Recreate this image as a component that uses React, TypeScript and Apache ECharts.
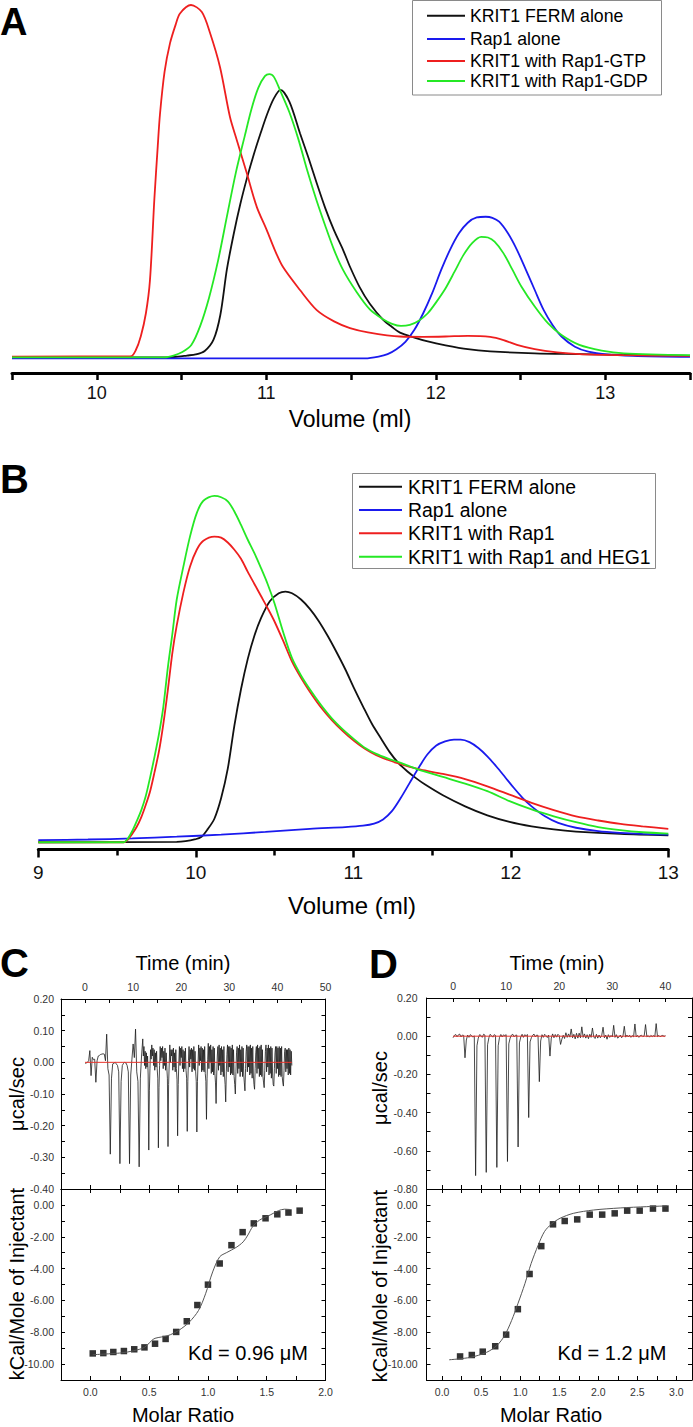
import React, { useEffect, useRef } from 'react';
import * as echarts from 'echarts';

const FONT = 'Liberation Sans, Arial, Helvetica, sans-serif';

// ---------- Panel A (absorbance, relative units; Rap1-GTP peak = 100) ----------
const A_X_BLACK = [9.5, 10.426, 10.479, 10.532, 10.584, 10.637, 10.689, 10.729, 10.768, 10.808, 10.847, 10.887, 10.926, 10.966, 11.005, 11.045, 11.084, 11.137, 11.199, 11.25, 11.298, 11.347, 11.4, 11.453, 11.494, 11.55, 11.611, 11.69, 11.742, 11.789, 11.874, 11.953, 12.058, 12.189, 12.321, 12.584, 12.847, 13.5];
const A_Y_BLACK = [0, 0, 0.2, 0.5, 0.8, 1.8, 5.0, 12, 25, 35, 43.5, 51, 57.5, 63.5, 69, 73.5, 75.9, 72.5, 63.6, 56.5, 49.4, 42.5, 36, 30.5, 25.7, 20, 15.2, 10.6, 8.6, 7, 5.6, 4.5, 3.4, 2.3, 1.7, 1.1, 0.9, 0.4];
const A_X_BLUE = [9.5, 11.584, 11.663, 11.716, 11.768, 11.821, 11.874, 11.926, 11.979, 12.032, 12.084, 12.137, 12.189, 12.242, 12.295, 12.334, 12.374, 12.426, 12.479, 12.532, 12.584, 12.637, 12.689, 12.742, 12.821, 12.9, 13.005, 13.163, 13.5];
const A_Y_BLUE = [-0.3, -0.3, 0.2, 0.9, 2.3, 4.4, 7.8, 12.5, 18.2, 24.8, 30.5, 35.2, 38.2, 39.7, 39.9, 39.6, 38.5, 35.2, 30.5, 24.8, 19.1, 13.4, 9.2, 5.9, 3.0, 1.6, 0.8, 0.4, 0.1];
const A_X_RED = [9.5, 10.2, 10.23, 10.26, 10.29, 10.314, 10.34, 10.36, 10.373, 10.4, 10.432, 10.466, 10.491, 10.556, 10.62, 10.668, 10.727, 10.786, 10.826, 10.885, 10.944, 11.003, 11.05, 11.099, 11.199, 11.298, 11.4, 11.494, 11.6, 11.789, 11.926, 12.058, 12.189, 12.321, 12.4, 12.479, 12.584, 12.716, 12.847, 13.11, 13.5];
const A_Y_RED = [0.2, 0.3, 2, 6, 12.5, 21.9, 45, 60, 69, 81, 89.1, 94.5, 97.6, 100, 98, 92.1, 82.4, 68.2, 61.7, 52.3, 42.7, 36.1, 30.5, 25.6, 19.1, 13.4, 10.2, 8.3, 7.1, 5.9, 5.8, 5.9, 6.1, 5.8, 4.9, 3.5, 2.3, 1.4, 0.9, 0.6, 0.4];
const A_X_GREEN = [9.5, 10.4, 10.453, 10.505, 10.558, 10.611, 10.663, 10.716, 10.768, 10.821, 10.874, 10.913, 10.953, 10.992, 11.018, 11.045, 11.084, 11.137, 11.189, 11.242, 11.295, 11.347, 11.4, 11.453, 11.532, 11.611, 11.689, 11.742, 11.795, 11.847, 11.9, 11.953, 12.005, 12.058, 12.111, 12.163, 12.216, 12.268, 12.308, 12.347, 12.4, 12.453, 12.505, 12.584, 12.663, 12.742, 12.847, 12.979, 13.11, 13.5];
const A_Y_GREEN = [0, 0, 0.5, 1.5, 3.5, 9, 17, 27.5, 40, 52.5, 63, 70.5, 76.5, 79.8, 80.4, 79.6, 75.5, 69.5, 62, 53, 44.8, 37.5, 30.5, 24.8, 18.6, 13.6, 10.8, 9.5, 8.9, 9.2, 10.4, 12.5, 15.8, 19.6, 24.3, 29, 32.5, 34.2, 34, 32.8, 29.5, 24.8, 20.1, 14.4, 9.6, 6.3, 3.5, 1.9, 1.1, 0.6];
const A_TICK_LABELS = ['10', '11', '12', '13'];
const A_LEGEND = ['KRIT1 FERM alone', 'Rap1 alone', 'KRIT1 with Rap1-GTP', 'KRIT1 with Rap1-GDP'];

// ---------- Panel B (relative units; KRIT1+Rap1+HEG1 peak = 100) ----------
const B_X = [9, 9.541, 9.569, 9.597, 9.625, 9.654, 9.682, 9.71, 9.738, 9.766, 9.794, 9.823, 9.851, 9.879, 9.921, 9.963, 10.006, 10.048, 10.118, 10.161, 10.203, 10.245, 10.287, 10.33, 10.372, 10.414, 10.456, 10.499, 10.555, 10.611, 10.668, 10.724, 10.794, 10.865, 10.935, 11.006, 11.076, 11.146, 11.217, 11.287, 11.358, 11.428, 11.569, 11.71, 11.851, 11.992, 12.132, 12.273, 12.414, 12.555, 12.696, 12.837, 13];
const B_Y_GREEN = [-0.3, -0.3, 0.8, 3.0, 5.8, 9.0, 13, 18.5, 24.5, 31, 39, 50.5, 60, 70, 79.5, 88.2, 95, 98.6, 100, 99.6, 98.4, 95.5, 91.6, 87.3, 83.4, 79.1, 74.5, 69, 60.5, 53, 48, 44, 39.5, 35.5, 32.3, 29.5, 27, 25.3, 24, 22.9, 21.7, 20.5, 18.6, 16.7, 14.5, 11.6, 9.2, 7.2, 5.5, 4.1, 3.2, 2.6, 2.2];
const B_Y_RED = [-0.3, -0.3, 0.5, 2.2, 4.2, 7, 10.5, 14.5, 20, 26, 34, 44, 54.5, 62.5, 72, 79.5, 84.4, 87, 88.2, 87.9, 86.5, 84.4, 81.8, 78, 74.5, 71, 67.5, 63.7, 58, 52, 47.3, 43.3, 38.8, 35, 31.8, 29, 26.7, 24.9, 23.6, 22.5, 21.5, 20.7, 19.5, 18, 15.9, 13.5, 11.1, 9, 7.2, 6, 5, 4.3, 3.6];
const B_X_BLACK = [9, 9.879, 9.935, 9.992, 10.034, 10.076, 10.118, 10.161, 10.203, 10.245, 10.287, 10.33, 10.372, 10.414, 10.47, 10.527, 10.569, 10.611, 10.668, 10.724, 10.78, 10.837, 10.893, 10.949, 11.006, 11.062, 11.118, 11.175, 11.231, 11.287, 11.344, 11.4, 11.456, 11.569, 11.71, 11.851, 11.992, 12.132, 12.273, 12.414, 12.696, 13];
const B_Y_BLACK = [-0.3, -0.2, 0, 0.5, 1.2, 3.5, 6.5, 12.5, 21, 33.5, 44, 52.8, 59.5, 64.6, 69.5, 71.8, 72.3, 71.8, 70, 67.3, 63.8, 59.5, 54.8, 49.8, 44.2, 39, 34, 29.8, 25.8, 22.6, 20.2, 18.2, 16.4, 13.3, 10.1, 7.5, 5.6, 4.3, 3.4, 2.8, 2.1, 1.7];
const B_X_BLUE = [9, 9.315, 9.597, 9.879, 10.161, 10.442, 10.724, 10.949, 11.062, 11.132, 11.189, 11.245, 11.301, 11.358, 11.414, 11.47, 11.527, 11.583, 11.639, 11.682, 11.738, 11.794, 11.851, 11.907, 11.963, 12.02, 12.076, 12.132, 12.217, 12.301, 12.414, 12.555, 12.696, 12.837, 13];
const B_Y_BLUE = [0.3, 0.5, 0.8, 1.3, 1.9, 2.7, 3.6, 4.1, 4.5, 5.1, 6.3, 8.7, 12.5, 16.9, 21.2, 25.1, 27.7, 28.9, 29.4, 29.4, 28.7, 27, 24.6, 21.7, 18.6, 15.4, 12.5, 10.1, 7.2, 5.3, 3.9, 2.9, 2.4, 2.1, 1.9];
const B_LEGEND = ['KRIT1 FERM alone', 'Rap1 alone', 'KRIT1 with Rap1', 'KRIT1 with Rap1 and HEG1'];

// ---------- Panel C (ITC) ----------
// raw thermogram, µcal/sec: first 12 min sampled every 0.25 min, then every 0.125 min
const C_RAW_EARLY_T0 = 0;
const C_RAW_EARLY_DT = 0.25;
const C_RAW_EARLY = [
  -0.003, -0.002, 0.0, 0.005, 0.037, -0.042, 0.016, 0.008,
  0.01, -0.063, 0.005, 0.02, 0.022, 0.025, 0.026, 0.027,
  0.026, 0.005, 0.089, -0.02, -0.04, -0.29, -0.05, -0.005,
  -0.003, 0.0, -0.005, -0.01, -0.03, -0.32, -0.06, -0.01,
  -0.003, 0.0, -0.002, -0.01, -0.03, -0.32, -0.04, 0.01,
  0.058, 0.015, 0.105, -0.03, -0.06, -0.33, -0.05, 0.02,
];
const C_RAW_LATE_T0 = 12;
const C_RAW_LATE_DT = 0.125;
const C_RAW_LATE = [
  0.074, 0.02, 0.05, -0.01, 0.035, -0.02, 0.03, -0.015, 0.02, -0.04, -0.277, -0.09, -0.02, 0.04, 0.01, 0.055,
  0.02, 0.045, -0.01, 0.04, -0.025, 0.03, -0.015, 0.035, -0.02, -0.05, -0.27, -0.08, -0.01, 0.05, 0.005, 0.045,
  0.015, 0.05, -0.02, 0.035, -0.01, 0.045, -0.025, 0.03, -0.015, -0.05, -0.266, -0.07, -0.005, 0.055, 0.0, 0.04,
  0.02, 0.04, -0.025, 0.045, -0.015, 0.03, -0.03, 0.04, -0.02, -0.055, -0.232, -0.07, 0.0, 0.05, -0.01, 0.045,
  0.015, 0.05, -0.02, 0.04, -0.03, 0.035, -0.02, 0.045, -0.025, -0.05, -0.218, -0.06, 0.005, 0.05, -0.015, 0.04,
  0.01, 0.045, -0.03, 0.04, -0.02, 0.05, -0.025, 0.035, -0.03, -0.06, -0.22, -0.06, 0.0, 0.055, -0.01, 0.045,
  0.005, 0.05, -0.03, 0.045, -0.025, 0.04, -0.03, 0.05, -0.035, -0.06, -0.18, -0.05, 0.01, 0.06, -0.02, 0.05,
  0.0, 0.055, -0.035, 0.04, -0.03, 0.05, -0.04, 0.045, -0.035, -0.065, -0.13, -0.04, 0.02, 0.05, -0.025, 0.055,
  -0.01, 0.045, -0.04, 0.05, -0.03, 0.04, -0.045, 0.05, -0.04, -0.07, -0.125, -0.03, 0.025, 0.055, -0.03, 0.05,
  -0.015, 0.05, -0.04, 0.045, -0.035, 0.055, -0.04, 0.04, -0.045, -0.07, -0.10, -0.03, 0.03, 0.05, -0.035, 0.045,
  -0.02, 0.055, -0.045, 0.04, -0.03, 0.05, -0.045, 0.045, -0.04, -0.065, -0.09, -0.02, 0.035, 0.055, -0.03, 0.05,
  -0.015, 0.05, -0.04, 0.055, -0.035, 0.045, -0.05, 0.05, -0.04, -0.07, -0.085, -0.02, 0.03, 0.05, -0.035, 0.055,
  -0.02, 0.045, -0.045, 0.05, -0.04, 0.055, -0.045, 0.04, -0.045, -0.065, -0.08, -0.025, 0.035, 0.055, -0.03, 0.045,
  -0.015, 0.055, -0.04, 0.045, -0.035, 0.05, -0.05, 0.045, -0.04, -0.07, -0.075, -0.02, 0.03, 0.05, -0.035, 0.05,
  -0.02, 0.045, -0.045, 0.05, -0.04, 0.045, -0.045, 0.05, -0.045, -0.065, -0.075, -0.025, 0.035, 0.045, -0.03, 0.04,
  -0.02, 0.04, -0.04, 0.045, -0.035, 0.04, -0.04, 0.035, -0.01,
];
const C_BASELINE_T = [0, 43];
const C_RATIO = [0.02, 0.11, 0.195, 0.285, 0.373, 0.46, 0.55, 0.64, 0.73, 0.82, 0.91, 1.0, 1.10, 1.20, 1.295, 1.39, 1.49, 1.59, 1.685, 1.78];
const C_HEAT = [-9.33, -9.31, -9.24, -9.18, -9.07, -8.95, -8.72, -8.42, -7.98, -7.31, -6.29, -5.01, -3.68, -2.53, -1.71, -1.16, -0.84, -0.59, -0.48, -0.36];
const C_FIT_X = [0.02, 0.26, 0.37, 0.46, 0.52, 0.55, 0.66, 0.75, 0.84, 0.92, 0.98, 1.04, 1.10, 1.16, 1.24, 1.30, 1.34, 1.38, 1.44, 1.53, 1.60, 1.65, 1.70];
const C_FIT_Y = [-9.41, -9.30, -9.16, -8.95, -8.53, -8.38, -8.21, -7.89, -7.37, -6.63, -5.58, -4.21, -3.26, -2.99, -2.67, -2.32, -1.89, -1.37, -0.95, -0.63, -0.36, -0.27, -0.29];

// ---------- Panel D (ITC) ----------
const D_RAW_T0 = 0;
const D_RAW_DT = 0.25;
const D_RAW = [
  -0.008, 0.004, 0.009, -0.003, 0.007, 0.011, -0.004, 0.006,
  0.004, -0.113, -0.02, 0.006, -0.006, 0.008, 0.003, -0.005,
  0.002, -0.73, -0.05, -0.01, 0.008, 0.004, -0.006, 0.01,
  0.006, -0.713, -0.045, -0.008, 0.01, 0.002, -0.005, 0.008,
  0.004, -0.687, -0.05, -0.006, 0.009, -0.004, 0.007, 0.003,
  0.008, -0.656, -0.04, -0.01, 0.006, 0.01, -0.003, 0.005,
  0.006, -0.58, -0.035, -0.004, 0.01, -0.006, 0.008, 0.002,
  0.009, -0.426, -0.03, -0.008, 0.005, 0.011, -0.004, 0.006,
  0.004, -0.238, -0.025, 0.008, -0.006, 0.01, 0.003, -0.007,
  0.006, -0.104, -0.01, 0.012, -0.008, 0.009, -0.005, 0.01,
  0.003, -0.043, -0.015, 0.005, -0.012, 0.018, -0.006, 0.012,
  -0.005, 0.038, -0.008, 0.01, -0.014, 0.015, -0.01, 0.016,
  -0.008, 0.049, -0.006, 0.012, -0.01, 0.008, -0.013, 0.01,
  -0.006, 0.043, -0.004, -0.012, 0.01, -0.01, 0.006, -0.008,
  0.004, 0.047, -0.008, 0.006, -0.016, 0.008, -0.006, 0.004,
  -0.004, 0.057, -0.006, 0.008, -0.01, -0.004, 0.006, -0.008,
  0.002, 0.052, -0.005, 0.006, -0.004, 0.005, -0.006, 0.003,
  -0.003, 0.064, -0.004, 0.004, -0.006, 0.003, 0.005, -0.002,
  0.002, 0.061, -0.003, 0.003, -0.005, 0.004, -0.002, 0.003,
  -0.002, 0.066, -0.002, 0.004, -0.003, 0.002, 0.004, -0.001,
  0.003,
];
const D_BASELINE_T = [0, 40];
const D_RATIO = [0.23, 0.38, 0.52, 0.68, 0.82, 0.97, 1.12, 1.27, 1.42, 1.57, 1.73, 1.89, 2.05, 2.21, 2.37, 2.53, 2.70, 2.86];
const D_HEAT = [-9.52, -9.43, -9.22, -8.88, -8.15, -6.55, -4.34, -2.59, -1.22, -1.01, -0.91, -0.61, -0.61, -0.53, -0.36, -0.36, -0.23, -0.23];
const D_FIT_X = [0.09, 0.36, 0.57, 0.70, 0.80, 0.89, 0.97, 1.06, 1.14, 1.23, 1.31, 1.40, 1.51, 1.68, 1.94, 2.28, 2.62, 2.88];
const D_FIT_Y = [-9.73, -9.58, -9.26, -8.84, -8.21, -7.26, -6.21, -4.95, -3.68, -2.53, -1.68, -1.20, -0.84, -0.53, -0.32, -0.19, -0.11, -0.06];
const D_RATIO_TICKS = [0, 0.25, 0.5, 0.75, 1, 1.25, 1.5, 1.75, 2, 2.25, 2.5, 2.75, 3];
const D_RATIO_LABELS = [0, 0.5, 1, 1.5, 2, 2.5, 3];

const C_KD = 'Kd = 0.96 \u03BCM';
const D_KD = 'Kd = 1.2 \u03BCM';

const COLORS = { black: '#111111', blue: '#1a1aee', red: '#ee1f1f', green: '#25e825' };

const pairs = (xs: number[], ys: number[]) => xs.map((x, i) => [x, ys[i]]);
const sampled = (t0: number, dt: number, vs: number[]) => vs.map((v, i) => [t0 + i * dt, v]);

const fmtInt = (v: number) => (Math.abs(v - Math.round(v)) < 1e-6 && A_TICK_LABELS.includes(String(Math.round(v))) ? String(Math.round(v)) : '');
const fmtIntB = (v: number) => (Math.abs(v - Math.round(v)) < 1e-6 ? String(Math.round(v)) : '');
const fmtTime = (v: number) => { const k = Math.round(v); return Math.abs(v - k) < 1e-6 && k >= 0 && k % 10 === 0 ? String(k) : ''; };
const fmtCTop = (v: number) => { const k = Math.round(v * 100); return k % 10 === 0 ? (k / 100).toFixed(2) : ''; };
const fmtDTop = (v: number) => { const k = Math.round(v * 10); return k % 2 === 0 ? (k / 10).toFixed(2) : ''; };
const fmtHeat = (v: number) => { const k = Math.round(v); return Math.abs(v - k) < 1e-6 && k % 2 === 0 ? k.toFixed(2) : ''; };
const fmtRatio = (v: number) => { const k = Math.round(v * 4); return k >= 0 && k % 2 === 0 ? (k / 4).toFixed(1) : ''; };

const LINE_OFF = { show: false };
const frame = { show: true, onZero: false, lineStyle: { color: '#000', width: 1 } };
const tickIn = { show: true, inside: true, length: 4, lineStyle: { color: '#000', width: 1 } };
const itcLabel = (fmt: any, margin: number) => ({ show: true, fontSize: 10.5, color: '#333', fontFamily: FONT, formatter: fmt, margin, showMinLabel: true, showMaxLabel: true });
const noLabel = { show: false };

function buildOption(): any {
  const grids = [
    { left: 12, top: 0, width: 678, height: 373 }, // A
    { left: 38.3, top: 420, width: 630, height: 429.5 }, // B
    { left: 61, top: 999, width: 264.5, height: 190 }, // C top
    { left: 61, top: 1189, width: 264.5, height: 191 }, // C bottom
    { left: 426.5, top: 998, width: 265.5, height: 191 }, // D top
    { left: 426.5, top: 1189, width: 265.5, height: 191 }, // D bottom
  ].map((g) => ({ ...g, show: false, containLabel: false, outerBoundsMode: 'none' }));

  const xAxis: any[] = [
    {
      type: 'value', gridIndex: 0, position: 'bottom', min: 9.5, max: 13.5, interval: 0.5,
      axisLine: { show: true, onZero: false, lineStyle: { color: '#000', width: 3 } },
      axisTick: { show: true, inside: false, length: 7, lineStyle: { color: '#000', width: 2.5 } },
      axisLabel: { show: true, formatter: fmtInt, fontSize: 18, color: '#111', fontFamily: FONT, margin: 11 },
      splitLine: LINE_OFF,
    },
    {
      type: 'value', gridIndex: 1, position: 'bottom', min: 9, max: 13, interval: 1,
      axisLine: { show: true, onZero: false, lineStyle: { color: '#000', width: 3 } },
      axisTick: { show: true, inside: false, length: 8, lineStyle: { color: '#000', width: 2.5 } },
      minorTick: { show: true, splitNumber: 2, length: 6, lineStyle: { color: '#000', width: 2.5 } },
      axisLabel: { show: true, formatter: fmtIntB, fontSize: 19, color: '#111', fontFamily: FONT, margin: 13, showMinLabel: true, showMaxLabel: true },
      splitLine: LINE_OFF, minorSplitLine: LINE_OFF,
    },
    // C top: time axis (top) and ratio ticks (bottom edge)
    { type: 'value', gridIndex: 2, position: 'top', min: -5, max: 50, interval: 5, axisLine: frame, axisTick: tickIn, axisLabel: itcLabel(fmtTime, 7), splitLine: LINE_OFF },
    { type: 'value', gridIndex: 2, position: 'bottom', min: -0.25, max: 2, interval: 0.25, axisLine: frame, axisTick: tickIn, axisLabel: noLabel, splitLine: LINE_OFF },
    // C bottom
    { type: 'value', gridIndex: 3, position: 'top', min: -0.25, max: 2, interval: 0.25, axisLine: frame, axisTick: tickIn, axisLabel: noLabel, splitLine: LINE_OFF },
    { type: 'value', gridIndex: 3, position: 'bottom', min: -0.25, max: 2, interval: 0.25, axisLine: frame, axisTick: tickIn, axisLabel: itcLabel(fmtRatio, 6), splitLine: LINE_OFF },
    // D top
    { type: 'value', gridIndex: 4, position: 'top', min: -5, max: 45, interval: 5, axisLine: frame, axisTick: tickIn, axisLabel: itcLabel(fmtTime, 7), splitLine: LINE_OFF },
    { type: 'value', gridIndex: 4, position: 'bottom', min: -0.2, max: 3.2, axisLine: frame, axisTick: { ...tickIn, customValues: D_RATIO_TICKS }, axisLabel: noLabel, splitLine: LINE_OFF },
    // D bottom
    { type: 'value', gridIndex: 5, position: 'top', min: -0.2, max: 3.2, axisLine: frame, axisTick: { ...tickIn, customValues: D_RATIO_TICKS }, axisLabel: noLabel, splitLine: LINE_OFF },
    {
      type: 'value', gridIndex: 5, position: 'bottom', min: -0.2, max: 3.2, axisLine: frame,
      axisTick: { ...tickIn, customValues: D_RATIO_TICKS },
      axisLabel: { ...itcLabel((v: number) => v.toFixed(1), 6), customValues: D_RATIO_LABELS },
      splitLine: LINE_OFF,
    },
  ];

  const yAxis: any[] = [
    { type: 'value', gridIndex: 0, min: -4.46, max: 101.42, show: false, splitLine: LINE_OFF },
    { type: 'value', gridIndex: 1, min: -2.4, max: 121.98, show: false, splitLine: LINE_OFF },
    { type: 'value', gridIndex: 2, position: 'left', min: -0.4, max: 0.2, interval: 0.05, axisLine: frame, axisTick: tickIn, axisLabel: itcLabel(fmtCTop, 7), splitLine: LINE_OFF },
    { type: 'value', gridIndex: 2, position: 'right', min: -0.4, max: 0.2, interval: 0.05, axisLine: frame, axisTick: tickIn, axisLabel: noLabel, splitLine: LINE_OFF },
    { type: 'value', gridIndex: 3, position: 'left', min: -11, max: 1, interval: 1, axisLine: frame, axisTick: tickIn, axisLabel: itcLabel(fmtHeat, 7), splitLine: LINE_OFF },
    { type: 'value', gridIndex: 3, position: 'right', min: -11, max: 1, interval: 1, axisLine: frame, axisTick: tickIn, axisLabel: noLabel, splitLine: LINE_OFF },
    { type: 'value', gridIndex: 4, position: 'left', min: -0.8, max: 0.2, interval: 0.1, axisLine: frame, axisTick: tickIn, axisLabel: itcLabel(fmtDTop, 9), splitLine: LINE_OFF },
    { type: 'value', gridIndex: 4, position: 'right', min: -0.8, max: 0.2, interval: 0.1, axisLine: frame, axisTick: tickIn, axisLabel: noLabel, splitLine: LINE_OFF },
    { type: 'value', gridIndex: 5, position: 'left', min: -11, max: 1, interval: 1, axisLine: frame, axisTick: tickIn, axisLabel: itcLabel(fmtHeat, 9), splitLine: LINE_OFF },
    { type: 'value', gridIndex: 5, position: 'right', min: -11, max: 1, interval: 1, axisLine: frame, axisTick: tickIn, axisLabel: noLabel, splitLine: LINE_OFF },
  ];

  const curve = (xi: number, yi: number, data: number[][], color: string, width = 1.8, smooth: any = 0.3) => ({
    type: 'line', xAxisIndex: xi, yAxisIndex: yi, data, symbol: 'none', showSymbol: false,
    smooth, clip: false, silent: true, lineStyle: { color, width },
  });

  const cRaw = [
    ...sampled(C_RAW_EARLY_T0, C_RAW_EARLY_DT, C_RAW_EARLY),
    ...sampled(C_RAW_LATE_T0, C_RAW_LATE_DT, C_RAW_LATE),
  ];

  const series: any[] = [
    curve(0, 0, pairs(A_X_BLACK, A_Y_BLACK), COLORS.black),
    curve(0, 0, pairs(A_X_BLUE, A_Y_BLUE), COLORS.blue),
    curve(0, 0, pairs(A_X_RED, A_Y_RED), COLORS.red),
    curve(0, 0, pairs(A_X_GREEN, A_Y_GREEN), COLORS.green),
    curve(1, 1, pairs(B_X_BLACK, B_Y_BLACK), COLORS.black),
    curve(1, 1, pairs(B_X_BLUE, B_Y_BLUE), COLORS.blue),
    curve(1, 1, pairs(B_X, B_Y_RED), COLORS.red),
    curve(1, 1, pairs(B_X, B_Y_GREEN), COLORS.green),
    curve(2, 2, cRaw, '#1c1c1c', 0.8, false),
    curve(2, 2, C_BASELINE_T.map((t) => [t, 0]), '#e8322a', 1, false),
    curve(5, 4, pairs(C_FIT_X, C_FIT_Y), '#555555', 1, 0.3),
    {
      type: 'scatter', xAxisIndex: 5, yAxisIndex: 4, data: pairs(C_RATIO, C_HEAT), symbol: 'rect', symbolSize: 6.5,
      itemStyle: { color: '#000' }, silent: true,
    },
    curve(6, 6, sampled(D_RAW_T0, D_RAW_DT, D_RAW), '#1c1c1c', 0.8, false),
    curve(6, 6, D_BASELINE_T.map((t) => [t, 0]), '#e8322a', 1, false),
    curve(9, 8, pairs(D_FIT_X, D_FIT_Y), '#555555', 1, 0.3),
    {
      type: 'scatter', xAxisIndex: 9, yAxisIndex: 8, data: pairs(D_RATIO, D_HEAT), symbol: 'rect', symbolSize: 6.5,
      itemStyle: { color: '#000' }, silent: true,
    },
  ];

  const txt = (text: string, x: number, y: number, size: number, opts: any = {}) => ({
    type: 'text', x, y, z: 100, rotation: opts.rotation || 0,
    style: {
      text, fontSize: size, fontFamily: FONT, fontWeight: opts.bold ? 'bold' : 'normal', fill: opts.fill || '#000',
      align: opts.align || 'center', verticalAlign: 'middle',
    },
  });

  const legend = (box: number[], rows: number[], lineX: number[], textX: number, labels: string[], size: number) => {
    const cols = [COLORS.black, COLORS.blue, COLORS.red, COLORS.green];
    const els: any[] = [
      { type: 'rect', z: 90, shape: { x: box[0], y: box[1], width: box[2], height: box[3] }, style: { fill: '#fff', stroke: '#8a8a8a', lineWidth: 1 } },
    ];
    labels.forEach((lab, i) => {
      els.push({ type: 'line', z: 100, shape: { x1: lineX[0], y1: rows[i], x2: lineX[1], y2: rows[i] }, style: { stroke: cols[i], lineWidth: 2 } });
      els.push(txt(lab, textX, rows[i], size, { align: 'left' }));
    });
    return els;
  };

  const graphic: any[] = [
    txt('A', 0, 22, 38, { bold: true, align: 'left' }),
    txt('B', 0, 479, 40, { bold: true, align: 'left' }),
    txt('C', 0, 963, 40, { bold: true, align: 'left' }),
    txt('D', 369, 964, 40, { bold: true, align: 'left' }),
    ...legend([412.5, 0.5, 249, 94.5], [15.7, 39, 61, 81], [427, 465], 470, A_LEGEND, 17.7),
    ...legend([352.5, 473.5, 303, 95], [486.7, 510, 533.3, 556.7], [359, 402], 408, B_LEGEND, 19.4),
    txt('Volume (ml)', 350, 419, 23),
    txt('Volume (ml)', 352, 905, 24),
    txt('Time (min)', 183, 963, 20),
    txt('Molar Ratio', 183, 1415, 20),
    txt('\u03BCcal/sec', 17, 1094, 20, { rotation: Math.PI / 2 }),
    txt('kCal/Mole of Injectant', 17, 1284, 20, { rotation: Math.PI / 2 }),
    txt(C_KD, 248, 1353, 20),
    txt('Time (min)', 557, 963, 20),
    txt('Molar Ratio', 551, 1415, 20),
    txt('\u03BCcal/sec', 380, 1088, 20, { rotation: Math.PI / 2 }),
    txt('kCal/Mole of Injectant', 380, 1286, 20, { rotation: Math.PI / 2 }),
    txt(D_KD, 612, 1353, 20),
  ];

  return {
    animation: false,
    backgroundColor: '#ffffff',
    textStyle: { fontFamily: FONT },
    grid: grids,
    xAxis,
    yAxis,
    series,
    graphic,
  };
}

export default function App() {
  const ref = useRef<HTMLDivElement>(null);
  useEffect(() => {
    if (!ref.current) return;
    const chart = echarts.init(ref.current, null, { renderer: 'svg' });
    chart.setOption(buildOption());
    return () => chart.dispose();
  }, []);
  return (
    <div
      ref={ref}
      style={{ position: 'absolute', left: 0, top: 0, width: 693, height: 1427, background: '#fff' }}
    />
  );
}
